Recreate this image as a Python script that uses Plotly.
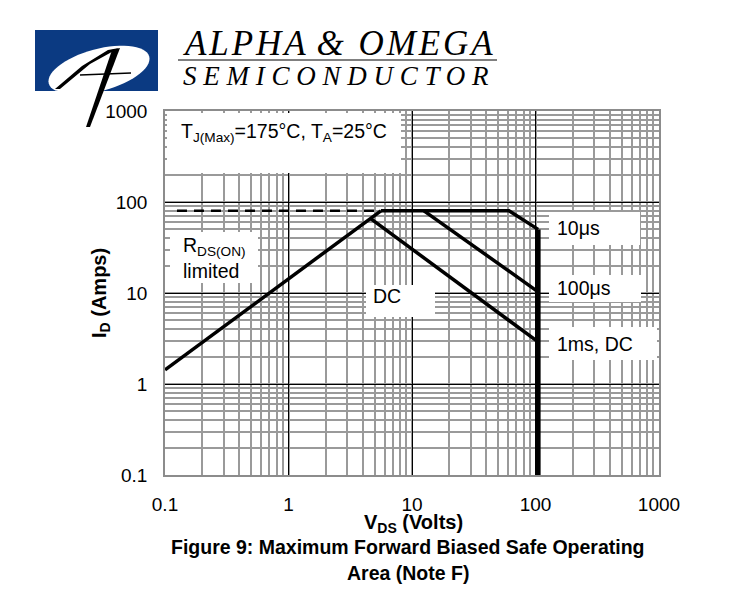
import math

import plotly.graph_objects as go

# axis ticks
x_tick_vals = [0.1, 1, 10, 100, 1000]
x_tick_text = ["0.1", "1", "10", "100", "1000"]
y_tick_vals = [0.1, 1, 10, 100, 1000]
y_tick_text = ["0.1", "1", "10", "100", "1000"]

# SOA boundary curves
vds_rds = [0.1, 5.6]
id_rds = [1.43, 80]

vds_dash = [0.125, 5.6]
id_dash = [80, 80]

vds_10us = [5.6, 61, 105]
id_10us = [80, 80, 50]

vds_vmax = [105, 105]
id_vmax = [50, 0.1]

vds_100us = [12.5, 105]
id_100us = [80, 10.3]

vds_dc = [4.6, 105]
id_dc = [66, 2.9]

# plot area as seen in the reference picture (pixels)
L, R, T, B = 165, 659, 111, 475
# the page body adds an 8px margin, so pull the figure back by that much
OFF = 8


def px(x):
    return (x - L) / (R - L)


def py(y):
    return (B - y) / (B - T)


def xv(x):
    return 10 ** (-1 + 4 * px(x))


def yv(y):
    return 10 ** (-1 + 4 * py(y))


def path(points):
    s = "M " + " L ".join(f"{px(x):.4f},{py(y):.4f}" for x, y in points)
    return s + " Z"


font_sans = "Liberation Sans, Arial, sans-serif"
font_serif = "Liberation Serif, Times New Roman, serif"

fig = go.Figure()

# white label boxes covering the grid (drawn first, under the curves)
boxes = [
    (167, 113, 401, 173),
    (170, 232, 258, 283),
    (366, 285, 435, 317),
    (549, 212, 640, 245),
    (549, 275, 641, 302),
    (549, 327, 657, 360),
]
for x0, y0, x1, y1 in boxes:
    fig.add_trace(go.Scatter(
        x=[xv(x0), xv(x1), xv(x1), xv(x0), xv(x0)],
        y=[yv(y0), yv(y0), yv(y1), yv(y1), yv(y0)],
        mode="lines", fill="toself", fillcolor="white",
        line=dict(width=0, color="white")))

line_style = dict(color="black", width=3.5)
fig.add_trace(go.Scatter(x=vds_dash, y=id_dash, mode="lines",
                         line=dict(color="black", width=2.5, dash="10px,7px")))
fig.add_trace(go.Scatter(x=vds_rds, y=id_rds, mode="lines", line=line_style))
fig.add_trace(go.Scatter(x=vds_10us, y=id_10us, mode="lines", line=line_style))
fig.add_trace(go.Scatter(x=vds_vmax, y=id_vmax, mode="lines",
                         line=dict(color="black", width=5)))
fig.add_trace(go.Scatter(x=vds_100us, y=id_100us, mode="lines", line=line_style))
fig.add_trace(go.Scatter(x=vds_dc, y=id_dc, mode="lines", line=line_style))

# logo: blue block, tilted white oval, brush-stroke "A"
shapes = []
shapes.append(dict(type="rect", xref="paper", yref="paper",
                   x0=px(35), x1=px(158), y0=py(91), y1=py(30),
                   fillcolor="#0b3a82", line_width=0))
oval = []
cx, cy, a, b, ang = 99, 70, 52, 21, math.radians(-15)
for i in range(60):
    t = 2 * math.pi * i / 60
    ex = cx + a * math.cos(t) * math.cos(ang) - b * math.sin(t) * math.sin(ang)
    ey = cy + a * math.cos(t) * math.sin(ang) + b * math.sin(t) * math.cos(ang)
    oval.append((ex, min(ey, 91)))
shapes.append(dict(type="path", xref="paper", yref="paper", path=path(oval),
                   fillcolor="white", line_width=0))
shapes.append(dict(type="path", xref="paper", yref="paper",
                   path=path([(55, 89), (60, 89), (90, 64), (119, 48), (108, 50), (82, 66)]),
                   fillcolor="black", line_width=0))
shapes.append(dict(type="path", xref="paper", yref="paper",
                   path=path([(112, 50), (120, 48), (90, 127), (86, 127)]),
                   fillcolor="black", line_width=0))
shapes.append(dict(type="line", xref="paper", yref="paper",
                   x0=px(80), y0=py(75), x1=px(131), y1=py(73),
                   line=dict(color="black", width=1.5)))
shapes.append(dict(type="line", xref="paper", yref="paper",
                   x0=px(178), y0=py(60), x1=px(497), y1=py(60),
                   line=dict(color="black", width=1)))


def note(text, x, y, size=19.5, anchor="left", **kw):
    return dict(text=text, xref="paper", yref="paper", x=px(x), y=py(y),
                xanchor=anchor, yanchor="middle", showarrow=False,
                font=dict(family=kw.pop("family", font_sans), size=size, color="black"),
                **kw)


annotations = [
    note("T<sub>J(Max)</sub>=175°C, T<sub>A</sub>=25°C", 179, 132),
    note("R<sub>DS(ON)</sub>", 181, 246),
    note("limited", 181, 271),
    note("DC", 371, 296),
    note("10μs", 555, 228),
    note("100μs", 555, 288),
    note("1ms, DC", 555, 344),
    note("<b>I<sub>D</sub> (Amps)</b>", 100, 293, size=20, anchor="center", textangle=-90),
    note("<b>V<sub>DS</sub> (Volts)</b>", 413, 523, size=20, anchor="center"),
    note("<b>Figure 9: Maximum Forward Biased Safe Operating</b>", 408, 547,
         anchor="center"),
    note("<b>Area (Note F)</b>", 408, 573, anchor="center"),
    note("<i>A\u200aL\u200aP\u200aH\u200aA \u200a&\u200a \u200aO\u200aM\u200aE\u200aG\u200aA</i>",
         181, 43, size=35, family=font_serif),
    note("<i>S E M I C O N D U C T O R</i>", 181, 76, size=27, family=font_serif),
]

axis_common = dict(
    type="log",
    range=[-1, 3],
    showgrid=True,
    gridcolor="black",
    gridwidth=1.3,
    minor=dict(dtick="D1", showgrid=True, gridcolor="#9a9a9a", gridwidth=1.5, ticks=""),
    showline=True,
    linecolor="#8c8c8c",
    linewidth=1.5,
    mirror=True,
    ticks="",
    zeroline=False,
    tickfont=dict(family=font_sans, size=19, color="black"),
)

fig.update_xaxes(**axis_common, tickvals=x_tick_vals, ticktext=x_tick_text,
                 ticklabelstandoff=11)
fig.update_yaxes(**axis_common, tickvals=y_tick_vals, ticktext=y_tick_text,
                 ticklabelstandoff=12)

fig.update_traces(showlegend=False, hoverinfo="skip")
fig.update_layout(
    width=750, height=600,
    margin=dict(l=L - OFF, r=750 - R + OFF, t=T - OFF, b=600 - B + OFF),
    paper_bgcolor="white", plot_bgcolor="white",
    shapes=shapes, annotations=annotations,
)

fig.write_html("out.html")
